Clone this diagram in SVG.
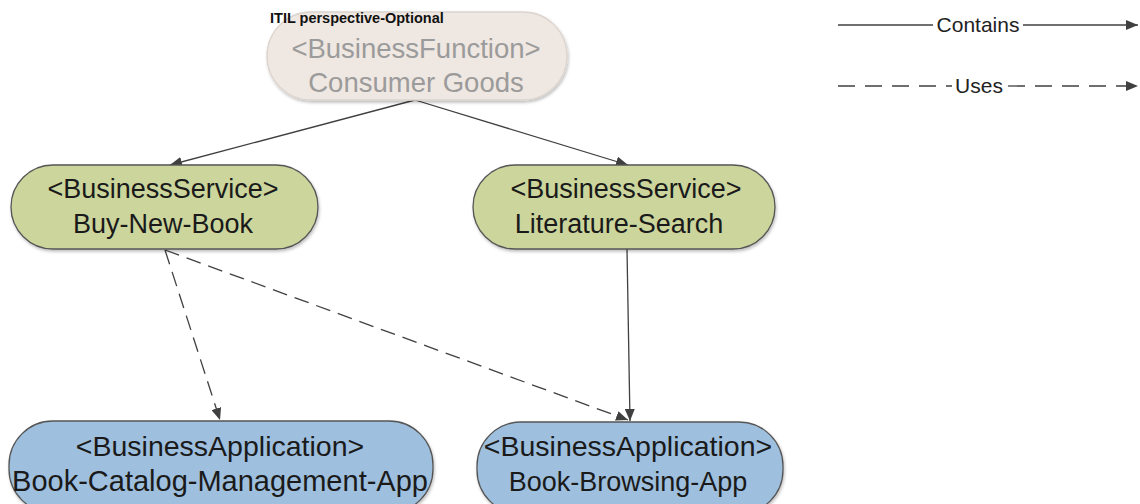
<svg xmlns="http://www.w3.org/2000/svg" width="1140" height="504" viewBox="0 0 1140 504">
<defs>
<marker id="arr" markerWidth="12" markerHeight="10" refX="12" refY="5" orient="auto" markerUnits="userSpaceOnUse">
<path d="M0,0 L12,5 L0,10 Z" fill="#404040"/>
</marker>
<filter id="sh" x="-10%" y="-10%" width="120%" height="130%">
<feDropShadow dx="1" dy="2" stdDeviation="1.5" flood-color="#000" flood-opacity="0.25"/>
</filter>
</defs>
<style>
.node text{font-family:"Liberation Sans",Arial,sans-serif;font-size:27px;text-anchor:middle;fill:#1a1a1a}
.node text.big{font-size:28.5px}
.svc{fill:#cbd59c;stroke:#555;stroke-width:1.3}
.app{fill:#9ebfdd;stroke:#555;stroke-width:1.3}
.fn{fill:#efe7e1;stroke:#dcd4ce;stroke-width:1.3}
.c{stroke:#404040;stroke-width:1.3;fill:none}
.d{stroke-dasharray:15 8}
.ld{stroke-dasharray:17 10}
.lg{font-family:"Liberation Sans",Arial,sans-serif;font-size:21px;fill:#222;text-anchor:middle}
</style>
<rect width="1140" height="504" fill="#fff"/>
<g id="connectors">
<path class="c" d="M415,100 L170,165" marker-end="url(#arr)"/>
<path class="c" d="M415,100 L628,165" marker-end="url(#arr)"/>
<path class="c" d="M627,249 L630,421" marker-end="url(#arr)"/>
<path class="c d" d="M165,250 L220,420" marker-end="url(#arr)"/>
<path class="c d" d="M165,250 L628,420" marker-end="url(#arr)"/>
</g>
<g id="legend">
<path class="c" d="M838,25 L933,25"/>
<text class="lg" x="978" y="32">Contains</text>
<path class="c" d="M1023,25 L1138,25" marker-end="url(#arr)"/>
<path class="c ld" d="M838,86 L952,86"/>
<text class="lg" x="979" y="93">Uses</text>
<path class="c ld" d="M1008,86 L1138,86" marker-end="url(#arr)"/>
</g>
<g id="n-function" class="node">
<rect class="fn" x="267" y="12" width="300" height="88" rx="44" filter="url(#sh)"/>
<text x="416" y="58" style="fill:#9b9b9b;font-size:27.5px">&lt;BusinessFunction&gt;</text>
<text x="416" y="92" style="fill:#9b9b9b;font-size:27.5px">Consumer Goods</text>
<text x="270" y="23" style="text-anchor:start;font-size:14.5px;font-weight:bold;fill:#111">ITIL perspective-Optional</text>
</g>
<g id="n-buy" class="node">
<rect class="svc" x="11" y="165" width="307" height="84" rx="42" filter="url(#sh)"/>
<text x="163" y="198">&lt;BusinessService&gt;</text>
<text x="163" y="233">Buy-New-Book</text>
</g>
<g id="n-lit" class="node">
<rect class="svc" x="473" y="165" width="302" height="84" rx="42" filter="url(#sh)"/>
<text x="626" y="198">&lt;BusinessService&gt;</text>
<text x="619" y="233">Literature-Search</text>
</g>
<g id="n-catalog" class="node">
<rect class="app" x="9" y="421" width="424" height="92" rx="44" filter="url(#sh)"/>
<text class="big" x="220" y="456">&lt;BusinessApplication&gt;</text>
<text x="220" y="491" style="font-size:29px">Book-Catalog-Management-App</text>
</g>
<g id="n-browse" class="node">
<rect class="app" x="477" y="422" width="306" height="92" rx="44" filter="url(#sh)"/>
<text class="big" x="628" y="456">&lt;BusinessApplication&gt;</text>
<text x="628" y="491">Book-Browsing-App</text>
</g>
</svg>
